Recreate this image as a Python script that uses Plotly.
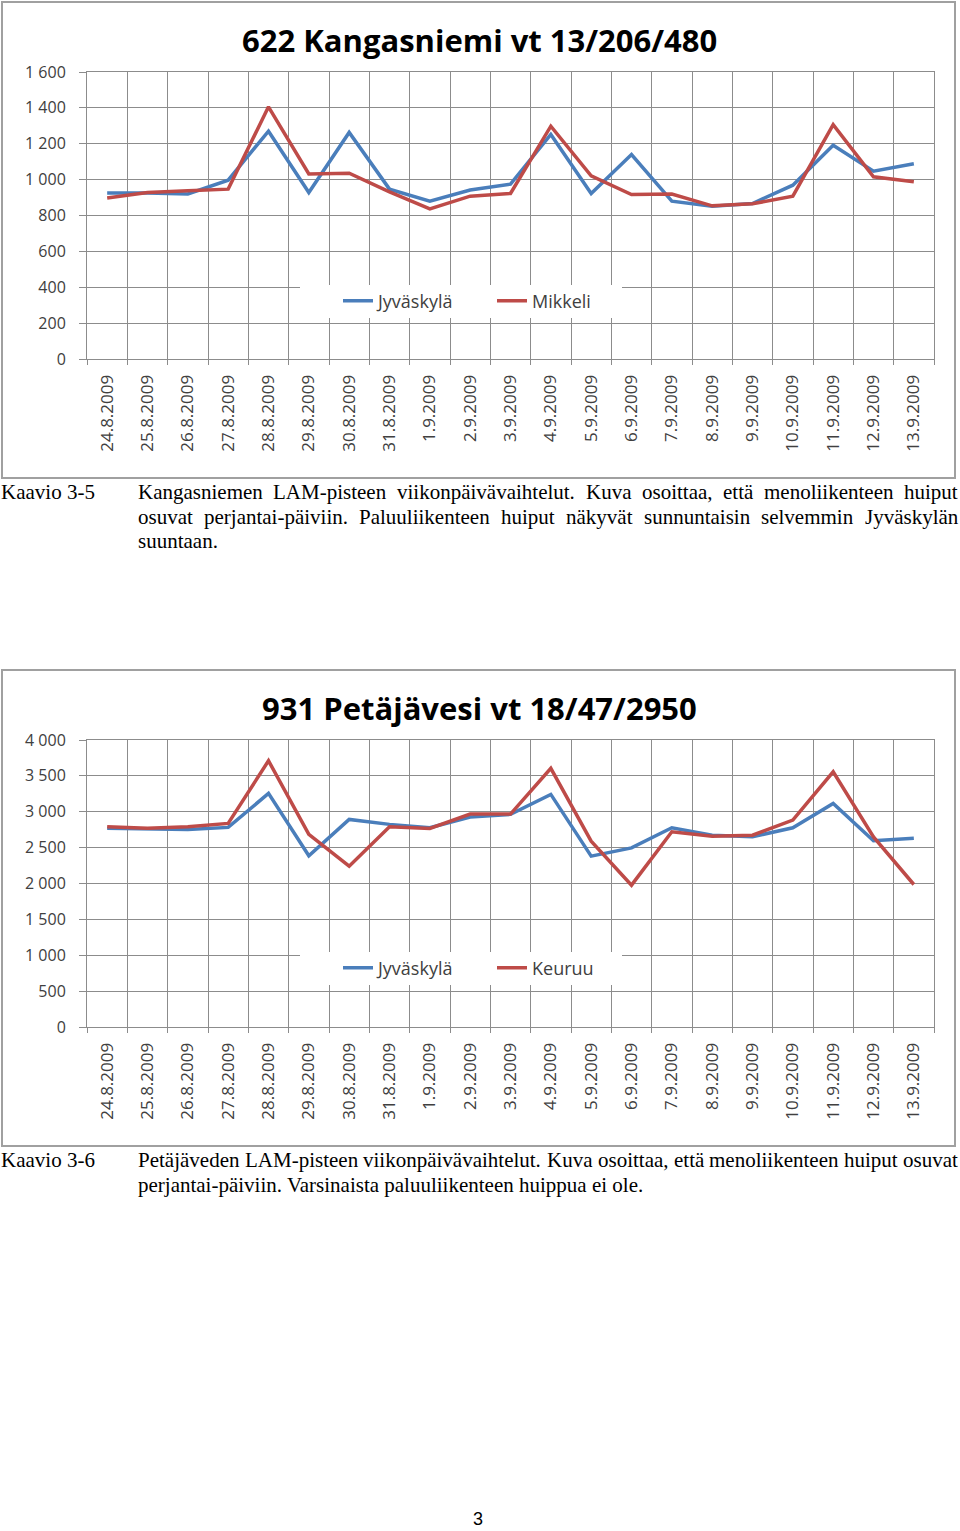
import plotly.graph_objects as go

# ---------------- data ----------------
dates = ["24.8.2009", "25.8.2009", "26.8.2009", "27.8.2009", "28.8.2009", "29.8.2009",
         "30.8.2009", "31.8.2009", "1.9.2009", "2.9.2009", "3.9.2009", "4.9.2009",
         "5.9.2009", "6.9.2009", "7.9.2009", "8.9.2009", "9.9.2009", "10.9.2009",
         "11.9.2009", "12.9.2009", "13.9.2009"]

kang_jyvaskyla = [925, 925, 920, 997, 1270, 928, 1263, 947, 880, 942, 975, 1252,
                  923, 1140, 880, 852, 867, 969, 1192, 1047, 1088]
kang_mikkeli = [897, 928, 938, 947, 1406, 1032, 1036, 932, 837, 908, 923, 1298,
                1021, 917, 920, 854, 865, 908, 1307, 1016, 988]

pet_jyvaskyla = [2770, 2765, 2754, 2782, 3256, 2386, 2893, 2824, 2777, 2926, 2963, 3242,
                 2381, 2497, 2777, 2674, 2651, 2777, 3116, 2595, 2632]
pet_keuruu = [2790, 2770, 2790, 2837, 3711, 2684, 2242, 2790, 2768, 2967, 2967, 3605,
              2591, 1977, 2721, 2660, 2674, 2884, 3557, 2650, 1986]

title1 = "622 Kangasniemi vt 13/206/480"
title2 = "931 Petäjävesi vt 18/47/2950"

caption1_label = "Kaavio 3-5"
caption1_lines = [
    "Kangasniemen LAM-pisteen viikonpäivävaihtelut. Kuva osoittaa, että menoliikenteen huiput",
    "osuvat perjantai-päiviin. Paluuliikenteen huiput näkyvät sunnuntaisin selvemmin Jyväskylän",
    "suuntaan.",
]
caption2_label = "Kaavio 3-6"
caption2_lines = [
    "Petäjäveden LAM-pisteen viikonpäivävaihtelut. Kuva osoittaa, että menoliikenteen huiput osuvat",
    "perjantai-päiviin. Varsinaista paluuliikenteen huippua ei ole.",
]
page_number = "3"

# ---------------- layout helpers ----------------
W, H = 960, 1531
BLUE = "#4A7EBB"
RED = "#BE4B48"
GRID = "#8C8C8C"
TXT = "#404040"
PL, PR = 87, 934  # plot area left/right in px


def px(x):
    return x / W


def py(y):
    return 1 - y / H


# Times metrics (per 1000 em) for justification
TIMES = {}
for c, w in zip("abcdefghijklmnopqrstuvwxyz",
                [444, 500, 444, 500, 444, 333, 500, 500, 278, 278, 500, 278, 778,
                 500, 500, 500, 500, 333, 389, 278, 500, 500, 722, 500, 500, 444]):
    TIMES[c] = w
for c, w in zip("ABCDEFGHIJKLMNOPQRSTUVWXYZ",
                [722, 667, 667, 722, 611, 556, 722, 722, 333, 389, 722, 611, 889,
                 722, 722, 556, 722, 667, 556, 611, 722, 722, 944, 722, 722, 611]):
    TIMES[c] = w
TIMES.update({"ä": 444, "ö": 500, "å": 444, "Ä": 722, "Ö": 722, " ": 250, ".": 250,
              ",": 250, "-": 333})
for d in "0123456789":
    TIMES[d] = 500

CAP_SIZE = 21
CAP_LEFT, CAP_RIGHT = 137, 957


def text_w(s):
    return sum(TIMES.get(c, 500) for c in s) * CAP_SIZE / 1000


annotations = []


def cap_font():
    return dict(family="Liberation Serif", size=CAP_SIZE, color="black")


def add_line(text, ypix, justify):
    words = text.split(" ")
    if justify and len(words) > 1:
        widths = [text_w(w) for w in words]
        gap = (CAP_RIGHT - CAP_LEFT - sum(widths)) / (len(words) - 1)
        x = CAP_LEFT
        for w, wd in zip(words, widths):
            annotations.append(dict(text=w, x=px(x), y=py(ypix), xref="paper", yref="paper",
                                    xanchor="left", yanchor="middle", showarrow=False,
                                    borderpad=0, font=cap_font()))
            x += wd + gap
    else:
        annotations.append(dict(text=text, x=px(CAP_LEFT), y=py(ypix), xref="paper",
                                yref="paper", xanchor="left", yanchor="middle",
                                showarrow=False, borderpad=0, font=cap_font()))


def add_caption(label, lines, y0):
    annotations.append(dict(text=label, x=0, y=py(y0), xref="paper", yref="paper",
                            xanchor="left", yanchor="middle", showarrow=False,
                            borderpad=0, font=cap_font()))
    for i, ln in enumerate(lines):
        add_line(ln, y0 + i * 24.5, justify=(i < len(lines) - 1))


add_caption(caption1_label, caption1_lines, 492)
add_caption(caption2_label, caption2_lines, 1160)

# titles
for t, yy in [(title1, 40), (title2, 708)]:
    annotations.append(dict(text="<b>" + t + "</b>", x=px(479), y=py(yy), xref="paper",
                            yref="paper", xanchor="center", yanchor="middle",
                            showarrow=False,
                            font=dict(family="Open Sans", size=31, color="black")))

annotations.append(dict(text=page_number, x=px(478), y=py(1519), xref="paper", yref="paper",
                        xanchor="center", yanchor="middle", showarrow=False,
                        font=dict(family="Liberation Sans", size=18, color="black")))

# ---------------- figure ----------------
fig = go.Figure()
fig.add_trace(go.Scatter(x=dates, y=kang_jyvaskyla, mode="lines", name="Jyväskylä",
                         line=dict(color=BLUE, width=3.5), xaxis="x", yaxis="y",
                         legend="legend"))
fig.add_trace(go.Scatter(x=dates, y=kang_mikkeli, mode="lines", name="Mikkeli",
                         line=dict(color=RED, width=3.5), xaxis="x", yaxis="y",
                         legend="legend"))
fig.add_trace(go.Scatter(x=dates, y=pet_jyvaskyla, mode="lines", name="Jyväskylä",
                         line=dict(color=BLUE, width=3.5), xaxis="x2", yaxis="y2",
                         legend="legend2"))
fig.add_trace(go.Scatter(x=dates, y=pet_keuruu, mode="lines", name="Keuruu",
                         line=dict(color=RED, width=3.5), xaxis="x2", yaxis="y2",
                         legend="legend2"))


def xaxis_cfg(ydom_anchor):
    return dict(type="category", categoryorder="array", categoryarray=dates,
                range=[-0.5, len(dates) - 0.5], tickson="boundaries", ticks="outside",
                ticklen=5, tickcolor=GRID, tickangle=-90, showgrid=True, gridcolor=GRID,
                gridwidth=1, showline=True, linecolor=GRID, linewidth=1, mirror=True,
                tickfont=dict(family="Open Sans", size=17, color=TXT),
                ticklabelstandoff=8, domain=[px(PL), px(PR)], anchor=ydom_anchor,
                automargin=False, fixedrange=True)


def yaxis_cfg(ymax, dtick, top, bottom, anchor):
    return dict(range=[0, ymax], dtick=dtick, tick0=0, tickformat=",d", ticks="outside",
                ticklen=7, tickcolor=GRID, showgrid=True, gridcolor=GRID, gridwidth=1,
                zeroline=True, zerolinecolor=GRID, zerolinewidth=1, showline=True,
                linecolor=GRID, linewidth=1, mirror=True,
                tickfont=dict(family="Open Sans", size=16, color=TXT),
                ticklabelstandoff=10, domain=[py(bottom), py(top)], anchor=anchor,
                automargin=False, fixedrange=True)


def legend_cfg(ycenter):
    return dict(x=px(338), y=py(ycenter), xref="paper", yref="paper", xanchor="left",
                yanchor="middle", orientation="h", bgcolor="rgba(0,0,0,0)", borderwidth=0,
                font=dict(family="Open Sans", size=18, color=TXT), entrywidth=109,
                entrywidthmode="pixels", tracegroupgap=0)


def legend_rect(box_top, box_bot):
    # white box behind the legend that hides the gridlines (no trace passes there)
    return dict(type="rect", xref="paper", yref="paper", x0=px(300), x1=px(622),
                y0=py(box_bot), y1=py(box_top), fillcolor="white",
                line=dict(width=0), layer="above")


fig.update_layout(
    width=W, height=H, margin=dict(l=0, r=0, t=0, b=0, pad=0, autoexpand=False),
    paper_bgcolor="white", plot_bgcolor="white",
    separators=", ",
    hovermode=False,
    xaxis=xaxis_cfg("y"),
    yaxis=yaxis_cfg(1600, 200, 72, 359, "x"),
    xaxis2=xaxis_cfg("y2"),
    yaxis2=yaxis_cfg(4000, 500, 740, 1027, "x2"),
    legend=legend_cfg(301),
    legend2=legend_cfg(968),
    annotations=annotations,
    shapes=[
        dict(type="rect", xref="paper", yref="paper", x0=px(2), x1=px(955), y0=py(478),
             y1=py(2), line=dict(color="#A0A0A0", width=2), layer="below"),
        dict(type="rect", xref="paper", yref="paper", x0=px(2), x1=px(955), y0=py(1146),
             y1=py(670), line=dict(color="#A0A0A0", width=2), layer="below"),
        legend_rect(285, 318),
        legend_rect(952, 985),
    ],
)

fig.write_html("out.html")
